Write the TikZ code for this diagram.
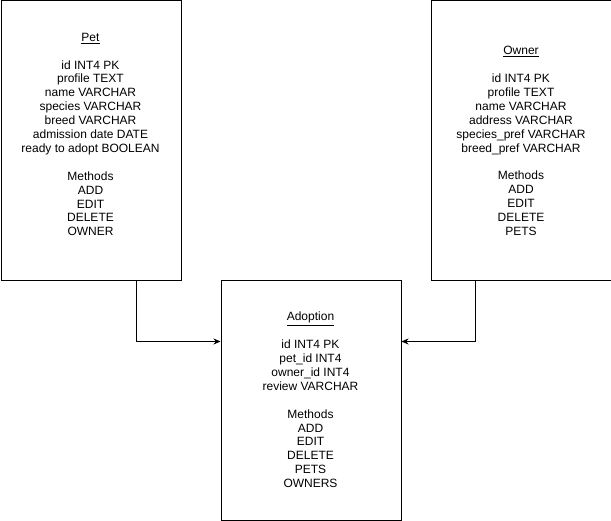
\documentclass[tikz,border=0pt]{standalone}
\usepackage{fontspec}
\setmainfont{Liberation Sans}
\usetikzlibrary{arrows.meta}
\begin{document}
\begin{tikzpicture}[x=1pt,y=-1pt,
  entity/.style={draw, line width=1pt, inner sep=0pt, anchor=north west},
  body/.style={align=center, font=\fontsize{12}{13.9}\selectfont, inner sep=0pt},
  link/.style={line width=1pt, -{Stealth[length=7pt,width=6pt]}}]
\useasboundingbox (0,0) rectangle (611,521);
\node[entity, minimum width=180pt, minimum height=279.5pt] (pet) at (0.5,0.5) {};
\node[entity, minimum width=179.5pt, minimum height=279.5pt] (owner) at (431,0.5) {};
\node[entity, minimum width=180pt, minimum height=239pt] (adoption) at (220.5,280.5) {};
\node[body] (pettext) at (90.5,134.5) {\underline{Pet}\\[13.9pt]id INT4 PK\\profile TEXT\\name VARCHAR\\species VARCHAR\\breed VARCHAR\\admission date DATE\\ready to adopt BOOLEAN\\[13.9pt]Methods\\ADD\\EDIT\\DELETE\\OWNER};
\node[body] (ownertext) at (521,141) {\underline{Owner}\\[13.9pt]id INT4 PK\\profile TEXT\\name VARCHAR\\address VARCHAR\\species\_pref VARCHAR\\breed\_pref VARCHAR\\[13.9pt]Methods\\ADD\\EDIT\\DELETE\\PETS};
\node[body] (adopttext) at (310.5,400) {\underline{Adoption}\\[13.9pt]id INT4 PK\\pet\_id INT4\\owner\_id INT4\\review VARCHAR\\[13.9pt]Methods\\ADD\\EDIT\\DELETE\\PETS\\OWNERS};
\draw[link] ([xshift=-45pt]pet.south east) |- ([yshift=-61pt]adoption.north west);
\draw[link] ([xshift=44pt]owner.south west) |- ([yshift=-61pt]adoption.north east);
\end{tikzpicture}
\end{document}
